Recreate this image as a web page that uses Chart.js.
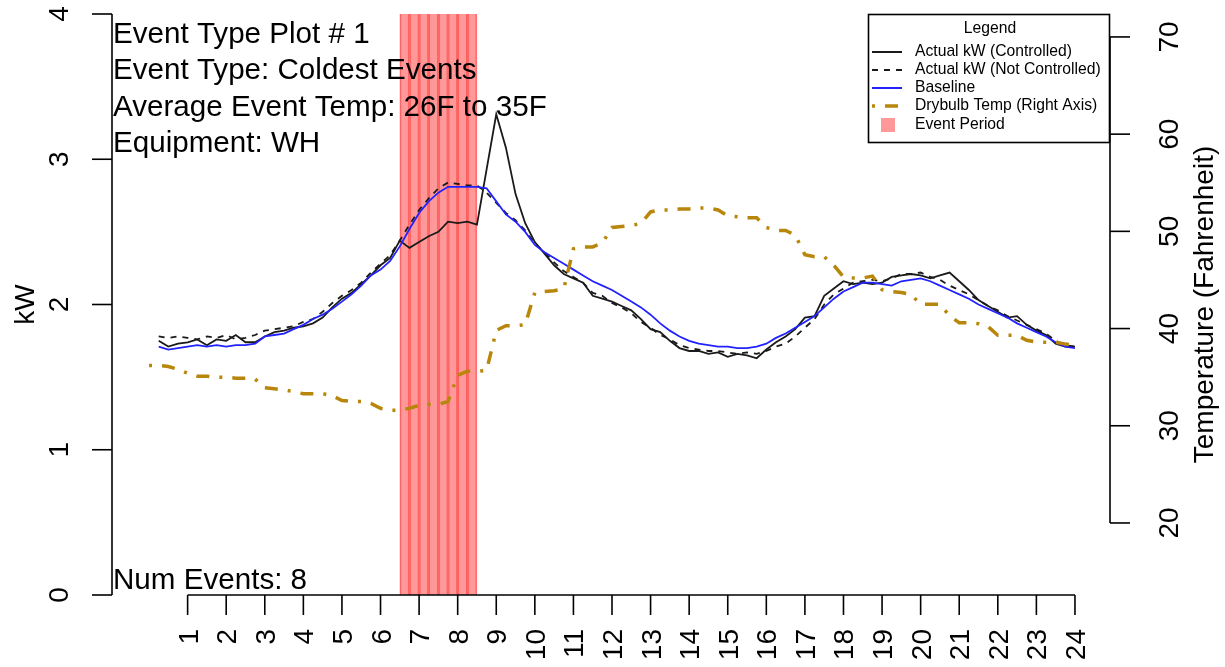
<!DOCTYPE html>
<html>
<head>
<meta charset="utf-8">
<title>Event Type Plot # 1</title>
<script src="https://cdn.jsdelivr.net/npm/chart.js@4.4.1/dist/chart.umd.min.js"></script>
<style>
  html, body { margin: 0; padding: 0; background: #ffffff; }
  #wrap { width: 1225px; height: 667px; }
</style>
</head>
<body>
<div id="wrap"><canvas id="chart" width="1225" height="667"></canvas></div>
<script>
// Hour-of-day axis
const hourTicks = [1, 2, 3, 4, 5, 6, 7, 8, 9, 10, 11, 12, 13, 14, 15, 16, 17, 18, 19, 20, 21, 22, 23, 24];
const kwTicks = [0, 1, 2, 3, 4];
const tempTicks = [20, 30, 40, 50, 60, 70];

// 15-minute interval load profiles (kW), 0:15 through 24:00
const kwControlled = [
  1.75, 1.71, 1.73, 1.74,  1.76, 1.72, 1.76, 1.75,  1.79, 1.74, 1.74, 1.78,
  1.81, 1.82, 1.84, 1.85,  1.87, 1.91, 1.98, 2.04,  2.08, 2.14, 2.20, 2.27,
  2.32, 2.44, 2.39, 2.43,  2.47, 2.50, 2.57, 2.56,  2.57, 2.55, 2.93, 3.31,
  3.08, 2.76, 2.56, 2.43,  2.35, 2.27, 2.21, 2.18,  2.15, 2.06, 2.04, 2.02,
  1.99, 1.96, 1.90, 1.83,  1.81, 1.75, 1.70, 1.68,  1.68, 1.66, 1.67, 1.64,
  1.66, 1.65, 1.63, 1.69,  1.74, 1.78, 1.83, 1.91,  1.92, 2.06, 2.11, 2.16,
  2.14, 2.15, 2.14, 2.15,  2.19, 2.20, 2.21, 2.20,  2.18, 2.20, 2.22, 2.16,
  2.10, 2.03, 1.99, 1.95,  1.91, 1.92, 1.86, 1.82,  1.79, 1.73, 1.71, 1.71
];
const kwNotControlled = [
  1.78, 1.77, 1.78, 1.77,  1.76, 1.78, 1.77, 1.79,  1.76, 1.77, 1.79, 1.82,
  1.83, 1.84, 1.85, 1.88,  1.90, 1.95, 2.01, 2.06,  2.10, 2.15, 2.22, 2.28,
  2.34, 2.44, 2.55, 2.65,  2.73, 2.80, 2.84, 2.83,  2.82, 2.82, 2.77, 2.70,
  2.63, 2.58, 2.51, 2.42,  2.36, 2.29, 2.23, 2.19,  2.15, 2.08, 2.06, 2.01,
  1.98, 1.94, 1.88, 1.84,  1.79, 1.76, 1.72, 1.70,  1.69, 1.68, 1.68, 1.67,
  1.66, 1.67, 1.66, 1.68,  1.71, 1.73, 1.78, 1.84,  1.90, 2.00, 2.07, 2.11,
  2.15, 2.16, 2.17, 2.16,  2.18, 2.21, 2.21, 2.22,  2.19, 2.17, 2.13, 2.10,
  2.07, 2.03, 1.99, 1.96,  1.92, 1.89, 1.86, 1.83,  1.80, 1.75, 1.72, 1.71
];
const kwBaseline = [
  1.71, 1.69, 1.70, 1.71,  1.72, 1.71, 1.72, 1.71,  1.72, 1.72, 1.73, 1.78,
  1.79, 1.80, 1.83, 1.86,  1.90, 1.93, 1.97, 2.02,  2.07, 2.13, 2.20, 2.24,
  2.30, 2.40, 2.52, 2.63,  2.71, 2.77, 2.81, 2.81,  2.81, 2.81, 2.80, 2.71,
  2.62, 2.57, 2.50, 2.41,  2.36, 2.32, 2.28, 2.24,  2.20, 2.16, 2.13, 2.10,
  2.06, 2.02, 1.98, 1.93,  1.87, 1.82, 1.78, 1.75,  1.73, 1.72, 1.71, 1.71,
  1.70, 1.70, 1.71, 1.73,  1.77, 1.80, 1.84, 1.88,  1.92, 1.98, 2.04, 2.09,
  2.12, 2.15, 2.15, 2.14,  2.13, 2.16, 2.17, 2.18,  2.16, 2.13, 2.10, 2.07,
  2.04, 2.00, 1.97, 1.94,  1.91, 1.87, 1.84, 1.81,  1.78, 1.74, 1.71, 1.70
];

// Dry-bulb temperature (F), 0:00 through 24:00 in 15-minute steps
const drybulbTemp = [
  36.2, 36.2, 36.1, 35.8,  35.4, 35.1, 35.1, 35.0,  35.0, 34.9, 34.9, 34.8,
  33.9, 33.8, 33.7, 33.5,  33.3, 33.3, 33.3, 33.1,  32.6, 32.5, 32.5, 32.3,
  31.8, 31.6, 31.6, 31.8,  32.1, 32.2, 32.2, 32.5,  35.2, 35.6, 35.6, 35.7,
  39.8, 40.3, 40.3, 40.4,  43.7, 43.8, 43.9, 44.1,  48.2, 48.4, 48.4, 48.8,
  50.4, 50.5, 50.6, 50.8,  52.0, 52.2, 52.2, 52.3,  52.3, 52.4, 52.4, 52.2,
  51.6, 51.5, 51.4, 51.4,  50.4, 50.1, 50.1, 49.6,  47.6, 47.4, 47.4, 46.5,
  45.3, 45.2, 45.2, 45.4,  44.0, 43.8, 43.7, 43.5,  42.5, 42.5, 42.5, 41.3,
  40.6, 40.6, 40.5, 40.2,  39.3, 39.3, 39.3, 38.8,  38.6, 38.6, 38.6, 38.4,
  38.3
];

// Event window (hours) and its 15-minute slots
const eventStart = 6.5;
const eventEnd = 8.5;
const slotHours = 0.25;

const infoLines = [
  'Event Type Plot # 1',
  'Event Type: Coldest Events',
  'Average Event Temp: 26F to 35F',
  'Equipment: WH'
];
const numEventsText = 'Num Events: 8';

const legendTitle = 'Legend';
const legendLabels = [
  'Actual kW (Controlled)',
  'Actual kW (Not Controlled)',
  'Baseline',
  'Drybulb Temp (Right Axis)',
  'Event Period'
];

// ---- build point lists ----
const kwTimes = kwControlled.map((_, i) => (i + 1) * slotHours);
const tempTimes = drybulbTemp.map((_, i) => i * slotHours);
const toXY = (xs, ys) => xs.map((x, i) => ({ x, y: ys[i] }));

const eventSlots = [];
for (let t = eventStart; t < eventEnd - 1e-9; t += slotHours) {
  eventSlots.push({ x: t + slotHours / 2, y: kwTicks[kwTicks.length - 1] });
}

const FONT = '"Liberation Sans", Arial, Helvetica, sans-serif';
const COLORS = {
  ink: '#1a1a1a',
  baseline: '#2222ff',
  temp: '#b8860b',
  eventFill: 'rgba(255, 0, 0, 0.40)',
  eventEdge: 'rgba(255, 20, 20, 0.55)'
};
const DASH_NC = [6, 6];
const DASH_TEMP = [3, 10, 13, 10];

// R-style axes, annotations and legend box
const rDecor = {
  id: 'rDecor',
  afterDatasetsDraw(chart) {
    const ctx = chart.ctx;
    const xs = chart.scales.x, ys = chart.scales.y, y2 = chart.scales.y2;
    const area = chart.chartArea;
    const tick = 20;
    const seg = (x1, y1, x2, y2p) => { ctx.beginPath(); ctx.moveTo(x1, y1); ctx.lineTo(x2, y2p); ctx.stroke(); };
    const vText = (txt, x, y, align) => {
      ctx.save(); ctx.translate(x, y); ctx.rotate(-Math.PI / 2);
      ctx.textAlign = align; ctx.textBaseline = 'alphabetic';
      ctx.fillText(txt, 0, 0); ctx.restore();
    };

    ctx.save();
    ctx.strokeStyle = '#000';
    ctx.fillStyle = '#000';
    ctx.lineWidth = 1.6;
    ctx.lineCap = 'butt';

    // bottom axis (hours)
    const yBottom = ys.getPixelForValue(0);
    seg(xs.getPixelForValue(hourTicks[0]), yBottom, xs.getPixelForValue(hourTicks[hourTicks.length - 1]), yBottom);
    ctx.font = '28px ' + FONT;
    hourTicks.forEach(h => {
      const px = xs.getPixelForValue(h);
      seg(px, yBottom, px, yBottom + tick);
      vText(String(h), px + 10, yBottom + 34, 'right');
    });

    // left axis (kW)
    const xLeft = area.left;
    seg(xLeft, ys.getPixelForValue(kwTicks[0]), xLeft, ys.getPixelForValue(kwTicks[kwTicks.length - 1]));
    kwTicks.forEach(v => {
      const py = ys.getPixelForValue(v);
      seg(xLeft, py, xLeft - tick, py);
      vText(String(v), xLeft - 44, py, 'center');
    });
    vText('kW', xLeft - 78, (area.top + area.bottom) / 2, 'center');

    // right axis (temperature)
    const xRight = area.right - 2;
    seg(xRight, y2.getPixelForValue(tempTicks[0]), xRight, y2.getPixelForValue(tempTicks[tempTicks.length - 1]));
    tempTicks.forEach(v => {
      const py = y2.getPixelForValue(v);
      seg(xRight, py, xRight + tick, py);
      vText(String(v), xRight + 68, py, 'center');
    });
    vText('Temperature (Fahrenheit)', xRight + 103, (area.top + area.bottom) / 2, 'center');

    // annotations
    ctx.font = '29.6px ' + FONT;
    ctx.textAlign = 'left';
    ctx.textBaseline = 'alphabetic';
    const tx = area.left + 1;
    [43, 79, 116, 152].forEach((by, i) => ctx.fillText(infoLines[i], tx, by));
    ctx.fillText(numEventsText, tx, yBottom - 6);

    // legend box
    const lx = 868.5, ly = 14.5, lw = 241, lh = 128;
    ctx.fillStyle = '#fff';
    ctx.fillRect(lx, ly, lw, lh);
    ctx.strokeStyle = '#000';
    ctx.lineWidth = 1.6;
    ctx.strokeRect(lx, ly, lw, lh);
    ctx.fillStyle = '#000';
    ctx.font = '15.7px ' + FONT;
    ctx.textAlign = 'center';
    ctx.textBaseline = 'middle';
    ctx.fillText(legendTitle, 990, 29);
    ctx.textAlign = 'left';
    const rows = [52, 70, 88, 106, 125];
    const sx0 = 872, sx1 = 902, textX = 915;
    ctx.strokeStyle = COLORS.ink; ctx.lineWidth = 2; ctx.setLineDash([]);
    seg(sx0, rows[0], sx1, rows[0]);
    ctx.setLineDash(DASH_NC);
    seg(sx0, rows[1], sx1, rows[1]);
    ctx.setLineDash([]); ctx.strokeStyle = COLORS.baseline;
    seg(sx0, rows[2], sx1, rows[2]);
    ctx.setLineDash(DASH_TEMP); ctx.strokeStyle = COLORS.temp; ctx.lineWidth = 3.5;
    seg(sx0, rows[3], sx1, rows[3]);
    ctx.setLineDash([]);
    ctx.fillStyle = '#ff9999';
    ctx.fillRect(881, rows[4] - 7, 14, 14);
    ctx.fillStyle = '#000';
    legendLabels.forEach((t, i) => ctx.fillText(t, textX, rows[i]));

    ctx.restore();
  }
};

new Chart(document.getElementById('chart'), {
  type: 'line',
  data: {
    datasets: [
      {
        label: legendLabels[3],
        data: toXY(tempTimes, drybulbTemp),
        yAxisID: 'y2',
        borderColor: COLORS.temp,
        borderWidth: 3.5,
        borderDash: DASH_TEMP,
        pointRadius: 0,
        tension: 0,
        order: 1
      },
      {
        label: legendLabels[2],
        data: toXY(kwTimes, kwBaseline),
        yAxisID: 'y',
        borderColor: COLORS.baseline,
        borderWidth: 1.8,
        pointRadius: 0,
        tension: 0,
        order: 2
      },
      {
        label: legendLabels[1],
        data: toXY(kwTimes, kwNotControlled),
        yAxisID: 'y',
        borderColor: COLORS.ink,
        borderWidth: 1.8,
        borderDash: DASH_NC,
        pointRadius: 0,
        tension: 0,
        order: 3
      },
      {
        label: legendLabels[0],
        data: toXY(kwTimes, kwControlled),
        yAxisID: 'y',
        borderColor: COLORS.ink,
        borderWidth: 1.8,
        pointRadius: 0,
        tension: 0,
        order: 4
      },
      {
        type: 'bar',
        label: legendLabels[4],
        data: eventSlots,
        yAxisID: 'y',
        backgroundColor: COLORS.eventFill,
        borderColor: COLORS.eventEdge,
        borderWidth: { left: 1, right: 1, top: 0, bottom: 0 },
        borderSkipped: false,
        barPercentage: 1,
        categoryPercentage: 1,
        grouped: false,
        order: 10
      }
    ]
  },
  options: {
    responsive: false,
    animation: false,
    events: [],
    layout: { padding: { left: 112, right: 113, top: 14, bottom: 72 } },
    plugins: { legend: { display: false }, tooltip: { enabled: false } },
    scales: {
      x: { type: 'linear', min: -0.96, max: 24.96, offset: false, display: false },
      y: { type: 'linear', min: 0, max: 4, display: false },
      y2: { type: 'linear', min: 12.59, max: 72.36, display: false, position: 'right' }
    }
  },
  plugins: [rDecor]
});
</script>
</body>
</html>
